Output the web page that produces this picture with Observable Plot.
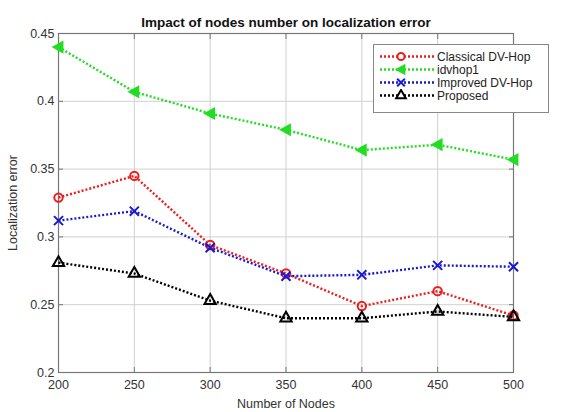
<!DOCTYPE html>
<html><head><meta charset="utf-8">
<script src="https://cdn.jsdelivr.net/npm/d3@7"></script>
<script src="https://cdn.jsdelivr.net/npm/@observablehq/plot@0.6"></script>
<style>
body{margin:0;background:#fff;font-family:Arial,"Liberation Sans",sans-serif;}
#wrap{position:relative;width:577px;height:412px;}
#legend{position:absolute;left:373px;top:44px;width:176px;height:69px;border:1px solid #888;background:#fff;box-sizing:border-box;font-size:12px;color:#222;}
.row{position:absolute;left:0;height:13px;display:flex;align-items:center;}
.row span{margin-left:1px;}
</style></head>
<body><div id="wrap"><div id="legend"></div></div>
<script>
const nodes = [200, 250, 300, 350, 400, 450, 500];
const classical = [0.329, 0.345, 0.294, 0.273, 0.249, 0.260, 0.242];
const idvhop1 = [0.440, 0.407, 0.391, 0.379, 0.364, 0.368, 0.357];
const improved = [0.312, 0.319, 0.292, 0.271, 0.272, 0.279, 0.278];
const proposed = [0.281, 0.273, 0.253, 0.240, 0.240, 0.245, 0.241];
const seriesNames = ["Classical DV-Hop", "idvhop1", "Improved DV-Hop", "Proposed"];
const seriesValues = [classical, idvhop1, improved, proposed];
const colors = ["#ee1c1c", "#22dd22", "#1a1acc", "#000000"];
const xTicks = [200, 250, 300, 350, 400, 450, 500];
const yTicks = [0.2, 0.25, 0.3, 0.35, 0.4, 0.45];

const leftTri = {draw(ctx, size){ const r = Math.sqrt(size/1.3)*0.75; ctx.moveTo(-r,0); ctx.lineTo(r*0.8,-r); ctx.lineTo(r*0.8,r); ctx.closePath(); }};
const symbols = ["circle", leftTri, "times", "triangle"];
const fills = ["none", colors[1], "none", "none"];

const data = [];
seriesNames.forEach((s,i)=>nodes.forEach((n,j)=>data.push({series:s, x:n, y:seriesValues[i][j]})));

const noText = () => "";
const marks = [
  Plot.gridX(xTicks, {stroke:"#d0d0d0", strokeOpacity:1}),
  Plot.gridY(yTicks, {stroke:"#d0d0d0", strokeOpacity:1}),
  Plot.frame({stroke:"#777", strokeWidth:1.2}),
  Plot.axisX(xTicks, {anchor:"bottom", tickSize:-5, stroke:"#777", tickPadding:13, fontSize:12.5, fill:"#333", tickFormat:d=>d, label:"Number of Nodes", labelAnchor:"center", labelArrow:"none", labelOffset:35}),
  Plot.axisX(xTicks, {anchor:"top", tickSize:-5, stroke:"#777", tickFormat:noText, label:null}),
  Plot.axisY(yTicks, {anchor:"left", tickSize:-5, stroke:"#777", tickPadding:9, fontSize:12.5, fill:"#333", tickFormat:d=>String(d), label:"Localization error", labelAnchor:"center", labelArrow:"none", labelOffset:50}),
  Plot.axisY(yTicks, {anchor:"right", tickSize:-5, stroke:"#777", tickFormat:noText, label:null}),
];
seriesNames.forEach((s,i)=>{
  const d = data.filter(r=>r.series===s);
  marks.push(Plot.line(d,{x:"x",y:"y",stroke:colors[i],strokeWidth:2.4,strokeDasharray:"2,2",strokeLinecap:"butt"}));
  marks.push(Plot.dot(d,{x:"x",y:"y",stroke:colors[i],fill:fills[i],symbol:symbols[i],r:4.2,strokeWidth:2}));
});
marks.push(Plot.text(["Impact of nodes number on localization error"],{frameAnchor:"top",dy:-16,fontWeight:"bold",fontSize:13.5,fill:"#111"}));

const chart = Plot.plot({
  width:577, height:412,
  marginLeft:58, marginRight:64, marginTop:33, marginBottom:40,
  x:{domain:[200,500]},
  y:{domain:[0.2,0.45]},
  style:{fontFamily:"Arial, 'Liberation Sans', sans-serif", background:"#fff"},
  marks
});
document.getElementById("wrap").prepend(chart);

const leg = document.getElementById("legend");
const rowsY = [5, 18, 31, 44];
seriesNames.forEach((s,i)=>{
  const row = document.createElement("div");
  row.className="row"; row.style.top = rowsY[i]+"px";
  const ns="http://www.w3.org/2000/svg";
  const svg=document.createElementNS(ns,"svg");
  svg.setAttribute("width","62"); svg.setAttribute("height","13");
  const ln=document.createElementNS(ns,"line");
  ln.setAttribute("x1","6");ln.setAttribute("x2","60");ln.setAttribute("y1","6.5");ln.setAttribute("y2","6.5");
  ln.setAttribute("stroke",colors[i]);ln.setAttribute("stroke-width","2.4");ln.setAttribute("stroke-dasharray","2,2");
  svg.appendChild(ln);
  const p=document.createElementNS(ns,"path");
  const path=d3.path(); const sym = typeof symbols[i]==="string" ? {circle:d3.symbolCircle,times:d3.symbolTimes,triangle:d3.symbolTriangle}[symbols[i]] : symbols[i];
  sym.draw(path, 40);
  p.setAttribute("d",path.toString());p.setAttribute("transform","translate(27,6.5)");
  p.setAttribute("stroke",colors[i]);p.setAttribute("stroke-width","2");p.setAttribute("fill",i===1?colors[i]:"#fff");
  svg.appendChild(p);
  row.appendChild(svg);
  const t=document.createElement("span");t.textContent=s;row.appendChild(t);
  leg.appendChild(row);
});
</script></body></html>
